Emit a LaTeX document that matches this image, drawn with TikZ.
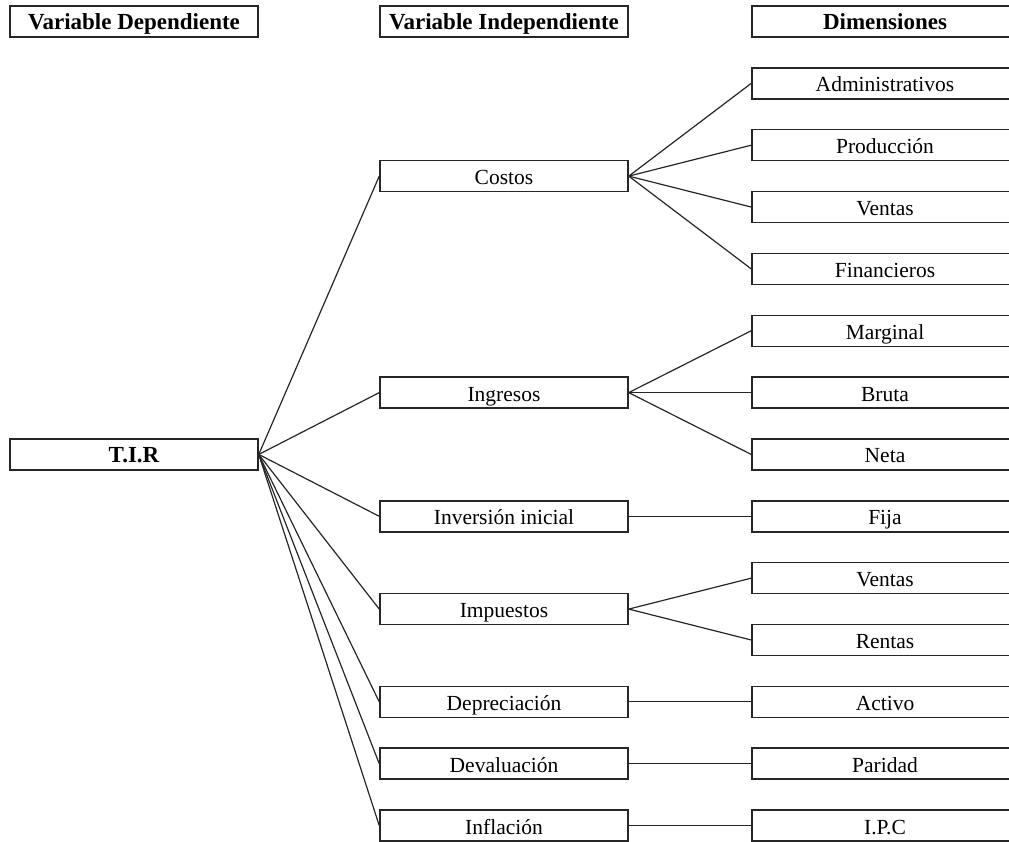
\documentclass[tikz,border=0pt]{standalone}
\usepackage{fontspec}
\setmainfont{Liberation Serif}
\begin{document}
\begin{tikzpicture}[x=1pt,y=-1pt,
  box/.style={draw=black!85,line width=1.5pt,fill=white,minimum height=31pt,inner sep=0pt,
    text height=22pt,text depth=5pt,
    font=\fontsize{21.5}{24}\selectfont},
  colbox/.style={box,minimum width=248pt},
  dimbox/.style={box,minimum width=266pt},
  head/.style={font=\fontsize{23}{26}\selectfont\bfseries},
  link/.style={draw=black!85,line width=1.2pt}]
\useasboundingbox (0,0) rectangle (1009,842);
\begin{scope}
\clip (0,0) rectangle (1009,842);
\def\rowstep{61.85}
% column headers
\node[colbox,head] (hdep) at (134,21.5) {Variable Dependiente};
\node[colbox,head] (hind) at (504,21.5) {Variable Independiente};
\node[dimbox,head] (hdim) at (885,21.5) {Dimensiones};
% dependent variable
\node[colbox,head] (tir) at (134,{21.5+7*\rowstep}) {T.I.R};
% independent variables
\node[colbox] (costos) at (504,{21.5+2.5*\rowstep}) {Costos};
\node[colbox] (ingresos) at (504,{21.5+6*\rowstep}) {Ingresos};
\node[colbox] (inversion) at (504,{21.5+8*\rowstep}) {Inversión inicial};
\node[colbox] (impuestos) at (504,{21.5+9.5*\rowstep}) {Impuestos};
\node[colbox] (deprec) at (504,{21.5+11*\rowstep}) {Depreciación};
\node[colbox] (deval) at (504,{21.5+12*\rowstep}) {Devaluación};
\node[colbox] (inflacion) at (504,{21.5+13*\rowstep}) {Inflación};
% dimensions
\node[dimbox] (admin) at (885,{21.5+1*\rowstep}) {Administrativos};
\node[dimbox] (produccion) at (885,{21.5+2*\rowstep}) {Producción};
\node[dimbox] (ventasc) at (885,{21.5+3*\rowstep}) {Ventas};
\node[dimbox] (financ) at (885,{21.5+4*\rowstep}) {Financieros};
\node[dimbox] (marginal) at (885,{21.5+5*\rowstep}) {Marginal};
\node[dimbox] (bruta) at (885,{21.5+6*\rowstep}) {Bruta};
\node[dimbox] (neta) at (885,{21.5+7*\rowstep}) {Neta};
\node[dimbox] (fija) at (885,{21.5+8*\rowstep}) {Fija};
\node[dimbox] (ventasi) at (885,{21.5+9*\rowstep}) {Ventas};
\node[dimbox] (rentas) at (885,{21.5+10*\rowstep}) {Rentas};
\node[dimbox] (activo) at (885,{21.5+11*\rowstep}) {Activo};
\node[dimbox] (paridad) at (885,{21.5+12*\rowstep}) {Paridad};
\node[dimbox] (ipc) at (885,{21.5+13*\rowstep}) {I.P.C};
% connectors from the dependent variable
\foreach \n in {costos,ingresos,inversion,impuestos,deprec,deval,inflacion}
  \draw[link] (tir.east) -- (\n.west);
% connectors to the dimensions
\foreach \n in {admin,produccion,ventasc,financ}
  \draw[link] (costos.east) -- (\n.west);
\foreach \n in {marginal,bruta,neta}
  \draw[link] (ingresos.east) -- (\n.west);
\draw[link] (inversion.east) -- (fija.west);
\foreach \n in {ventasi,rentas}
  \draw[link] (impuestos.east) -- (\n.west);
\draw[link] (deprec.east) -- (activo.west);
\draw[link] (deval.east) -- (paridad.west);
\draw[link] (inflacion.east) -- (ipc.west);
\end{scope}
\end{tikzpicture}
\end{document}
